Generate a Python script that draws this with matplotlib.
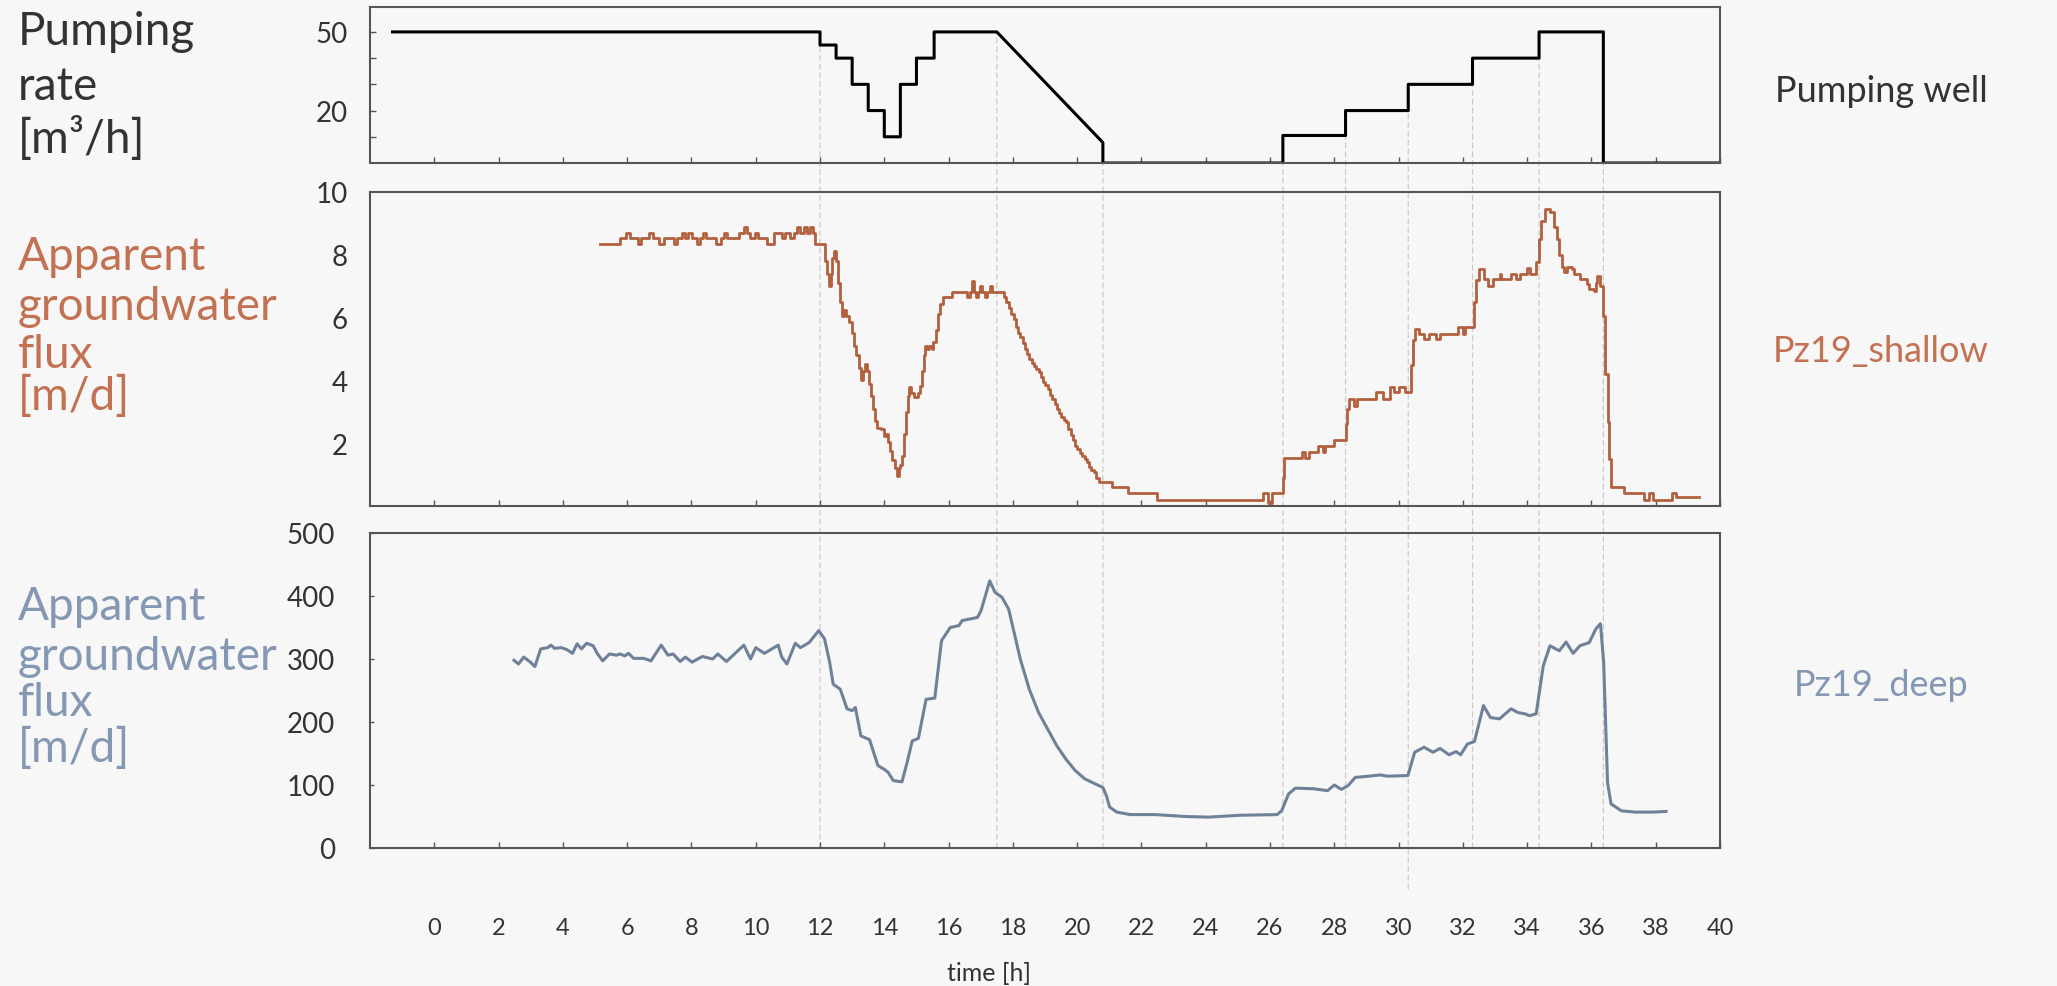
import numpy as np
import matplotlib
matplotlib.use("Agg")
import matplotlib.pyplot as plt
from matplotlib.patches import ConnectionPatch

plt.rcParams['font.family'] = ['Lato', 'DejaVu Sans']

# pumping rate of the well [m3/h] (polyline, vertical steps given twice)
pump_t = [-1.3, 12.0, 12.0, 12.5, 12.5, 13.0, 13.0, 13.5, 13.5, 14.0, 14.0, 14.5, 14.5,
          15.0, 15.0, 15.55, 15.55, 17.5, 20.8, 20.8, 26.4, 26.4, 28.35, 28.35, 30.3, 30.3,
          32.3, 32.3, 34.37, 34.37, 36.37, 36.37, 40.0]
pump_q = [50, 50, 45, 45, 40, 40, 30, 30, 20, 20, 10, 10, 30,
          30, 40, 40, 50, 50, 7.8, 0, 0, 10.5, 10.5, 20, 20, 30,
          30, 40, 40, 50, 50, 0, 0]

# Pz19_shallow apparent flux [m/d] (step series)
sh_t = [5.17, 5.79, 5.95, 6.10, 6.34, 6.44, 6.67, 6.80, 6.98, 7.14, 7.45, 7.55, 7.71, 7.81,
        7.90, 8.02, 8.18, 8.28, 8.35, 8.45, 8.75, 8.93, 9.00, 9.11, 9.47, 9.63, 9.73, 9.83,
        9.97, 10.07, 10.35, 10.56, 10.82, 10.92, 11.08, 11.18, 11.28, 11.39, 11.49, 11.60,
        11.70, 11.77, 11.85,
        12.16, 12.22, 12.27, 12.33, 12.38, 12.44, 12.50, 12.56, 12.62, 12.68, 12.74, 12.82,
        12.90, 12.99, 13.05, 13.13, 13.20, 13.28, 13.34, 13.39, 13.45, 13.52, 13.58, 13.64,
        13.70, 13.77, 13.90, 13.98, 14.05, 14.10, 14.18, 14.25, 14.32, 14.39, 14.45, 14.50,
        14.56, 14.62, 14.68, 14.73, 14.78, 14.84, 14.91, 15.05, 15.12, 15.17, 15.22, 15.27,
        15.33, 15.40, 15.48, 15.53, 15.60, 15.66, 15.74, 15.82, 16.05, 16.12, 16.50, 16.57,
        16.66, 16.72, 16.78, 16.84, 16.92, 16.98, 17.05, 17.12, 17.20, 17.28, 17.34, 17.72,
        17.80, 17.88, 17.95, 18.02, 18.10, 18.17, 18.23, 18.30, 18.37, 18.44, 18.51, 18.58,
        18.66, 18.73, 18.80, 18.87, 18.94, 19.01, 19.08, 19.15, 19.22, 19.30, 19.37, 19.44,
        19.51, 19.58, 19.65, 19.72, 19.80, 19.87, 19.94, 20.01, 20.08, 20.16, 20.23, 20.30,
        20.37, 20.44, 20.51, 20.60, 20.68, 21.08, 21.58, 22.48, 25.79, 25.93, 26.05, 26.40,
        26.45, 27.00, 27.10, 27.20, 27.50, 27.64, 27.72, 28.00, 28.35, 28.40, 28.45, 28.60,
        28.70, 29.29, 29.50, 29.72, 29.86, 30.00, 30.20, 30.38, 30.44, 30.50, 30.62, 30.78,
        30.95, 31.15, 31.29, 31.86, 32.00, 32.08, 32.35, 32.42, 32.50, 32.65, 32.79, 32.95,
        33.14, 33.20, 33.50, 33.65, 33.78, 34.00, 34.10, 34.29, 34.36, 34.43, 34.55, 34.72,
        34.84, 34.93, 35.00, 35.07, 35.14, 35.25, 35.40, 35.47, 35.64, 35.85, 35.93, 36.07,
        36.14, 36.18, 36.28, 36.35, 36.42, 36.50, 36.56, 36.61, 37.00, 37.64, 37.78, 37.92,
        38.52, 38.62, 39.35]
sh_v = [8.33, 8.52, 8.71, 8.52, 8.33, 8.52, 8.71, 8.52, 8.33, 8.52, 8.33, 8.52, 8.71, 8.52,
        8.71, 8.52, 8.33, 8.52, 8.71, 8.52, 8.33, 8.52, 8.71, 8.52, 8.71, 8.90, 8.71, 8.52,
        8.71, 8.52, 8.33, 8.71, 8.52, 8.71, 8.52, 8.71, 8.90, 8.71, 8.90, 8.71,
        8.90, 8.71, 8.33,
        7.8, 7.4, 7.02, 7.4, 7.9, 8.13, 7.8, 7.1, 6.5, 6.06, 6.25, 6.06,
        5.85, 5.5, 5.1, 4.8, 4.4, 4.0, 4.3, 4.52, 4.3, 3.9, 3.5, 3.1,
        2.7, 2.5, 2.45, 2.24, 2.3, 2.05, 1.75, 1.45, 1.2, 0.97, 1.2, 1.29,
        1.6, 2.3, 3.0, 3.5, 3.78, 3.6, 3.46, 3.6, 3.83, 4.3, 4.8, 5.11,
        5.0, 5.11, 5.0, 5.21, 5.6, 6.1, 6.43, 6.65, 6.65, 6.8, 6.8, 6.65,
        6.8, 7.18, 6.8, 6.65, 6.8, 7.02, 6.8, 6.65, 6.8, 7.02, 6.8, 6.65,
        6.49, 6.3, 6.1, 5.96, 5.7, 5.5, 5.37, 5.2, 5.0, 4.85, 4.68, 4.55,
        4.45, 4.35, 4.26, 4.1, 3.95, 3.85, 3.73, 3.55, 3.4, 3.25, 3.09, 2.95,
        2.85, 2.75, 2.67, 2.45, 2.25, 2.1, 1.92, 1.8, 1.7, 1.6, 1.5, 1.4,
        1.25, 1.15, 1.07, 0.9, 0.75, 0.59, 0.41, 0.20, 0.41, 0.10, 0.41, 0.9,
        1.52, 1.71, 1.52, 1.71, 1.92, 1.71, 1.92, 2.11, 2.6, 3.1, 3.41, 3.2,
        3.41, 3.62, 3.41, 3.78, 3.62, 3.78, 3.62, 4.5, 5.3, 5.64, 5.48, 5.32,
        5.48, 5.32, 5.48, 5.69, 5.48, 5.69, 6.5, 7.2, 7.55, 7.23, 7.02, 7.23,
        7.39, 7.23, 7.39, 7.23, 7.39, 7.58, 7.39, 7.76, 8.5, 9.09, 9.46, 9.35,
        8.9, 8.5, 8.0, 7.6, 7.44, 7.6, 7.55, 7.39, 7.23, 7.07, 6.9, 6.86,
        7.1, 7.34, 7.0, 6.06, 4.2, 2.67, 1.5, 0.59, 0.41, 0.20, 0.41, 0.20,
        0.41, 0.30, 0.30]

# Pz19_deep apparent flux [m/d]
dp_t = [2.48, 2.62, 2.78, 2.99, 3.13, 3.31, 3.53, 3.63, 3.74, 3.95, 4.12, 4.30, 4.44, 4.58,
        4.74, 4.94, 5.08, 5.24, 5.45, 5.67, 5.77, 5.93, 6.04, 6.20, 6.52, 6.74, 7.06, 7.27,
        7.43, 7.65, 7.81, 8.02, 8.34, 8.66, 8.82, 9.09, 9.36, 9.63, 9.84, 10.00, 10.27, 10.70,
        10.81, 10.97, 11.23, 11.39, 11.66, 11.96, 12.14, 12.30, 12.41, 12.63, 12.84, 13.00,
        13.10, 13.27, 13.54, 13.80, 14.02, 14.12, 14.28, 14.55, 14.71, 14.87, 15.06, 15.30,
        15.57, 15.78, 16.05, 16.32, 16.42, 16.90, 17.01, 17.28, 17.44, 17.66, 17.87, 18.01,
        18.23, 18.51, 18.80, 19.08, 19.37, 19.65, 19.94, 20.23, 20.51, 20.80, 20.91, 21.01,
        21.23, 21.65, 22.44, 23.37, 24.08, 25.08, 26.22, 26.36, 26.58, 26.79, 27.36, 27.79,
        28.00, 28.22, 28.43, 28.65, 29.08, 29.43, 29.65, 30.29, 30.50, 30.79, 31.07, 31.29,
        31.57, 31.79, 31.93, 32.14, 32.36, 32.64, 32.86, 33.14, 33.50, 33.71, 33.93, 34.07,
        34.28, 34.50, 34.71, 35.00, 35.21, 35.43, 35.64, 35.93, 36.14, 36.28, 36.38, 36.50,
        36.61, 36.93, 37.35, 37.92, 38.32]
dp_v = [298, 292, 303, 295, 288, 316, 318, 322, 317, 318, 315, 309, 324, 316,
        325, 321, 308, 297, 308, 306, 308, 305, 309, 301, 301, 297, 322, 306,
        308, 296, 303, 295, 304, 300, 308, 296, 309, 322, 300, 318, 309, 322,
        303, 292, 325, 318, 326, 345, 332, 295, 260, 252, 221, 218,
        223, 178, 172, 131, 124, 120, 107, 105, 136, 170, 174, 236,
        238, 329, 350, 353, 361, 366, 377, 424, 406, 398, 379, 348,
        300, 252, 215, 189, 162, 141, 123, 110, 103, 96, 83, 65,
        57, 53, 53, 50, 49, 52, 53, 59, 86, 95, 94, 91,
        100, 93, 99, 112, 114, 116, 114, 115, 152, 160, 152, 158,
        148, 153, 148, 165, 169, 226, 207, 205, 221, 215, 213, 210,
        213, 289, 321, 313, 327, 309, 321, 326, 348, 356, 295, 104,
        70, 59, 57, 57, 58]

# times of pumping changes (dashed guides)
event_t = [12.0, 17.5, 20.8, 26.4, 28.35, 30.3, 32.3, 34.37, 36.37]
event_top = [45, 50, 7.8, 10.5, 20, 30, 40, 50, 50]
event_low = [0, 0, 0, 0, 0, -65, 0, 0, 0]

x_ticks = list(range(0, 41, 2))

bg = '#f7f7f7'
spine_c = '#555555'
brown = '#b2603d'
brown_txt = '#c27252'
blue = '#6f8199'
blue_txt = '#8497b3'
txt_c = '#333333'

fig = plt.figure(figsize=(20.57, 9.87), dpi=100, facecolor=bg)
ax1 = fig.add_axes([0.17988, 0.83384, 0.65630, 0.15805])
ax2 = fig.add_axes([0.17988, 0.48632, 0.65630, 0.31814])
ax3 = fig.add_axes([0.17988, 0.13982, 0.65630, 0.31915])

for ax in (ax1, ax2, ax3):
    ax.set_facecolor('none')
    ax.set_xlim(-2, 40)
    ax.set_xticks(x_ticks)
    for s in ax.spines.values():
        s.set_color(spine_c)
        s.set_linewidth(1.5)
    ax.tick_params(direction='in', length=4, width=1, colors=spine_c,
                   labelcolor=txt_c, labelsize=20)

ax1.plot(pump_t, pump_q, color='black', lw=2.2)
ax1.set_ylim(0, 59.5)
ax1.set_yticks([10, 20, 30, 40, 50])
ax1.set_yticklabels(['', '20', '', '', '50'])
ax1.tick_params(axis='y', pad=16)
ax1.tick_params(axis='x', labelbottom=False)

ax2.plot(sh_t, sh_v, color=brown, lw=2.0, drawstyle='steps-post')
ax2.set_ylim(0, 10)
ax2.set_yticks([2, 4, 6, 8, 10])
ax2.tick_params(axis='y', pad=16, length=0)
ax2.tick_params(axis='x', labelbottom=False)

ax3.plot(dp_t, dp_v, color=blue, lw=2.2)
ax3.set_ylim(0, 500)
ax3.set_yticks(range(0, 501, 100))
ax3.tick_params(axis='y', pad=25, length=3)
ax3.tick_params(axis='x', pad=50, labelsize=17)
ax3.set_xlabel('time [h]', fontsize=18, color=txt_c)
ax3.xaxis.set_label_coords(0.4585, -0.36)

for t, top, low in zip(event_t, event_top, event_low):
    con = ConnectionPatch(xyA=(t, low), coordsA=ax3.transData,
                          xyB=(t, top), coordsB=ax1.transData,
                          color='#cacaca', lw=0.9, linestyle=(0, (4, 3)), zorder=-1)
    fig.add_artist(con)

# left labels
lx = 18 / 2057
def ltext(ypx, s, c):
    fig.text(lx, 1 - ypx / 987, s, ha='left', va='baseline', fontsize=33, color=c)

for ypx, s in zip([45, 100, 153], ['Pumping', 'rate', '[m³/h]']):
    ltext(ypx, s, txt_c)
for ypx, s in zip([270, 320, 368, 410], ['Apparent', 'groundwater', 'flux', '[m/d]']):
    ltext(ypx, s, brown_txt)
for ypx, s in zip([620, 670, 716, 762], ['Apparent', 'groundwater', 'flux', '[m/d]']):
    ltext(ypx, s, blue_txt)

# right labels
rx = 0.9145
fig.text(rx, 1 - 92 / 987, 'Pumping well', ha='center', va='center', fontsize=26, color=txt_c)
fig.text(rx, 1 - 352 / 987, 'Pz19_shallow', ha='center', va='center', fontsize=26, color=brown_txt)
fig.text(rx, 1 - 685 / 987, 'Pz19_deep', ha='center', va='center', fontsize=26, color=blue_txt)

fig.savefig('out.png', dpi=100, facecolor=bg)
